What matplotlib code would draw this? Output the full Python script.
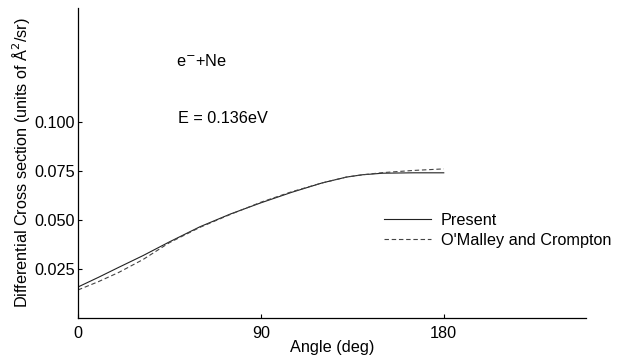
import matplotlib
matplotlib.use("Agg")
import matplotlib.pyplot as plt
import numpy as np

plt.rcParams["font.family"] = ["Liberation Sans", "DejaVu Sans"]

# angle (deg) and differential cross section (A^2/sr)
ANGLE = [0, 10, 20, 32, 45, 60, 75, 90, 105, 120, 132, 140, 150, 165, 180]
PRESENT = [0.0158, 0.0207, 0.0258, 0.0318, 0.0388, 0.0465, 0.0530, 0.0587,
           0.0640, 0.0688, 0.0718, 0.0730, 0.0738, 0.0740, 0.0740]
OMALLEY = [0.0143, 0.0185, 0.0232, 0.0298, 0.0384, 0.0462, 0.0528, 0.0590,
           0.0643, 0.0688, 0.0718, 0.0730, 0.0741, 0.0752, 0.0760]

X_TICKS = [0, 90, 180]
Y_TICKS = [0.025, 0.050, 0.075, 0.100]

FS = 11.7

fig = plt.figure(figsize=(6.19, 3.6), dpi=100)
ax = fig.add_axes([78 / 619, 1 - 318 / 360, (586 - 78) / 619, (318 - 8) / 360])

ax.plot(ANGLE, PRESENT, "-", color="#222222", lw=0.8, label="Present")
ax.plot(ANGLE, OMALLEY, "--", color="#444444", lw=0.8, dashes=(4, 2.5),
        label="O'Malley and Crompton")

ax.set_xlim(0, 250)
ax.set_ylim(0, 0.158)
ax.set_xticks(X_TICKS)
ax.set_xticklabels([str(t) for t in X_TICKS])
ax.set_yticks(Y_TICKS)
ax.set_yticklabels([f"{t:.3f}" for t in Y_TICKS])
ax.tick_params(direction="in", length=3, width=0.8, labelsize=FS)
ax.tick_params(axis="x", pad=6)
ax.tick_params(axis="y", pad=2)
for s in ["top", "right"]:
    ax.spines[s].set_visible(False)
for s in ["left", "bottom"]:
    ax.spines[s].set_linewidth(0.9)

ax.set_xlabel("Angle (deg)", fontsize=FS, labelpad=-1)
ax.set_ylabel("Differential Cross section (units of Å$^2$/sr)", fontsize=FS, labelpad=2)

ax.text(0.192, 0.83, "e$^{-}$+Ne", transform=ax.transAxes, fontsize=FS, va="center")
ax.text(0.196, 0.645, "E = 0.136eV", transform=ax.transAxes, fontsize=FS, va="center")

ax.legend(loc="upper left", bbox_to_anchor=(0.59, 0.36), frameon=False,
          fontsize=FS, handlelength=2.9, handletextpad=0.6, labelspacing=0.3,
          borderaxespad=0)

fig.savefig("out.png", dpi=100)
